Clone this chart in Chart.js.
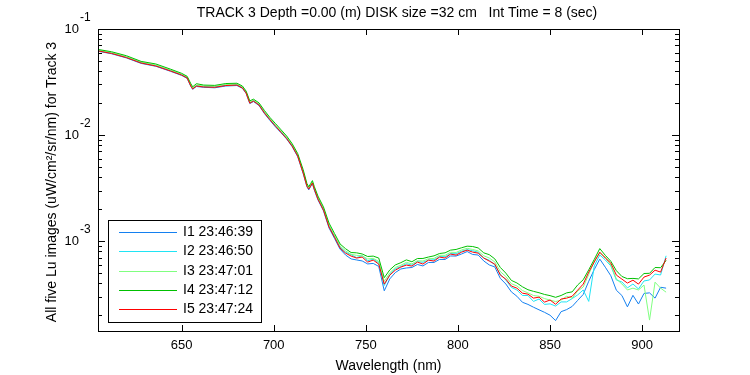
<!DOCTYPE html>
<html>
<head>
<meta charset="utf-8">
<script src="https://cdn.jsdelivr.net/npm/chart.js@4.4.1/dist/chart.umd.min.js"></script>
<style>
  html, body { margin: 0; padding: 0; background: #fff; }
  canvas { display: block; }
</style>
</head>
<body>
<canvas id="luChart" width="750" height="375"></canvas>
<script>
const chartTitle = "TRACK 3 Depth =0.00 (m) DISK size =32 cm   Int Time = 8 (sec)";
const xTitle = "Wavelength (nm)";
const yTitle = "All five Lu images (uW/cm\u00B2/sr/nm) for Track 3";

const seriesLabels = ["I1 23:46:39", "I2 23:46:50", "I3 23:47:01", "I4 23:47:12", "I5 23:47:24"];
const seriesColors = ["#1480f0", "#20e4f4", "#80ff80", "#00c000", "#ff0000"];

const xTicks = [650, 700, 750, 800, 850, 900];
const yTicks = [1e-1, 1e-2, 1e-3];
const yTickExp = ["-1", "-2", "-3"];

const wavelengths = [
  605, 612, 620, 628, 636, 644, 650, 653, 655, 656,
  658, 662, 668, 674, 680, 683, 685, 686, 687, 689,
  692, 695, 698, 701, 704, 707, 710, 713, 716, 718,
  719, 720, 721, 722, 724, 727, 730, 733, 736,
  739, 742, 745, 748, 751, 754, 757, 760, 763, 766,
  769, 772, 775, 778, 781, 784, 787, 790, 793, 796,
  799, 802, 805, 808, 811, 814, 817, 820, 823, 826,
  829, 832, 835, 838, 841, 844, 847, 850, 853, 856,
  859, 862, 865, 868, 871, 874, 877, 880, 883, 886,
  889, 892, 895, 898, 901, 904, 907, 910, 913
];

const lu1 = [
  6.16e-2, 5.84e-2, 5.34e-2, 4.74e-2, 4.45e-2, 3.99e-2, 3.65e-2, 3.42e-2, 2.87e-2, 2.70e-2,
  2.87e-2, 2.82e-2, 2.79e-2, 2.90e-2, 2.93e-2, 2.76e-2, 2.47e-2, 2.21e-2, 1.98e-2, 2.07e-2,
  1.90e-2, 1.59e-2, 1.37e-2, 1.19e-2, 1.05e-2, 9.18e-3, 7.78e-3, 6.26e-3, 4.32e-3, 3.26e-3,
  3.04e-3, 3.26e-3, 3.49e-3, 3.04e-3, 2.45e-3, 1.93e-3, 1.33e-3, 1.06e-3, 8.40e-4,
  7.39e-4, 6.79e-4, 6.64e-4, 6.50e-4, 6.09e-4, 6.16e-4, 5.77e-4, 3.40e-4, 4.40e-4, 5.05e-4,
  5.46e-4, 5.58e-4, 5.64e-4, 6.02e-4, 5.83e-4, 6.29e-4, 6.29e-4, 6.72e-4, 6.71e-4, 7.24e-4,
  7.23e-4, 7.56e-4, 7.97e-4, 7.48e-4, 7.39e-4, 6.50e-4, 5.96e-4, 5.71e-4, 4.45e-4, 3.94e-4,
  3.32e-4, 3.02e-4, 2.65e-4, 2.53e-4, 2.38e-4, 2.25e-4, 2.13e-4, 2.00e-4, 1.78e-4, 2.16e-4,
  2.26e-4, 2.42e-4, 2.76e-4, 3.14e-4, 4.18e-4, 5.39e-4, 6.77e-4, 5.67e-4, 4.71e-4, 3.44e-4,
  3.07e-4, 2.40e-4, 3.08e-4, 2.55e-4, 3.21e-4, 3.25e-4, 2.90e-4, 3.67e-4, 3.60e-4
];

const lu2 = [
  6.26e-2, 5.93e-2, 5.43e-2, 4.83e-2, 4.52e-2, 4.06e-2, 3.72e-2, 3.48e-2, 2.93e-2, 2.75e-2,
  2.93e-2, 2.87e-2, 2.85e-2, 2.96e-2, 2.99e-2, 2.81e-2, 2.52e-2, 2.25e-2, 2.02e-2, 2.11e-2,
  1.94e-2, 1.63e-2, 1.40e-2, 1.22e-2, 1.07e-2, 9.40e-3, 7.98e-3, 6.42e-3, 4.45e-3, 3.34e-3,
  3.13e-3, 3.34e-3, 3.57e-3, 3.13e-3, 2.52e-3, 1.99e-3, 1.39e-3, 1.11e-3, 8.80e-4,
  7.85e-4, 7.44e-4, 6.99e-4, 7.28e-4, 6.53e-4, 6.75e-4, 6.25e-4, 3.81e-4, 4.83e-4, 5.48e-4,
  5.75e-4, 6.12e-4, 5.93e-4, 6.40e-4, 6.31e-4, 6.62e-4, 6.67e-4, 7.14e-4, 7.13e-4, 7.62e-4,
  7.60e-4, 8.03e-4, 8.30e-4, 8.11e-4, 7.85e-4, 6.92e-4, 6.61e-4, 5.95e-4, 4.88e-4, 4.29e-4,
  3.66e-4, 3.46e-4, 3.07e-4, 3.07e-4, 2.70e-4, 2.84e-4, 2.53e-4, 2.56e-4, 2.44e-4, 2.67e-4,
  2.67e-4, 2.87e-4, 3.11e-4, 3.46e-4, 2.70e-4, 5.83e-4, 7.40e-4, 6.64e-4, 5.83e-4, 4.30e-4,
  4.12e-4, 3.62e-4, 3.94e-4, 3.54e-4, 4.21e-4, 4.30e-4, 4.89e-4, 4.79e-4, 7.27e-4
];

const lu3 = [
  6.30e-2, 5.98e-2, 5.48e-2, 4.87e-2, 4.57e-2, 4.10e-2, 3.75e-2, 3.52e-2, 2.96e-2, 2.78e-2,
  2.96e-2, 2.90e-2, 2.88e-2, 2.99e-2, 3.02e-2, 2.84e-2, 2.54e-2, 2.28e-2, 2.04e-2, 2.13e-2,
  1.96e-2, 1.65e-2, 1.42e-2, 1.24e-2, 1.09e-2, 9.52e-3, 8.08e-3, 6.52e-3, 4.52e-3, 3.39e-3,
  3.17e-3, 3.39e-3, 3.62e-3, 3.18e-3, 2.57e-3, 2.03e-3, 1.42e-3, 1.13e-3, 9.00e-4,
  8.09e-4, 7.51e-4, 7.34e-4, 7.28e-4, 6.78e-4, 6.88e-4, 6.43e-4, 4.17e-4, 5.02e-4, 5.64e-4,
  5.92e-4, 6.30e-4, 6.10e-4, 6.53e-4, 6.49e-4, 6.82e-4, 6.87e-4, 7.35e-4, 7.34e-4, 7.84e-4,
  7.82e-4, 8.26e-4, 8.55e-4, 8.34e-4, 8.09e-4, 7.27e-4, 6.93e-4, 6.37e-4, 5.16e-4, 4.64e-4,
  3.96e-4, 3.78e-4, 3.42e-4, 3.25e-4, 3.07e-4, 3.02e-4, 2.87e-4, 2.78e-4, 2.69e-4, 2.78e-4,
  3.02e-4, 2.90e-4, 3.38e-4, 3.69e-4, 4.85e-4, 6.47e-4, 7.71e-4, 7.06e-4, 5.95e-4, 4.40e-4,
  3.94e-4, 3.46e-4, 3.60e-4, 3.46e-4, 3.85e-4, 1.80e-4, 4.10e-4, 3.60e-4, 3.30e-4
];

const lu4 = [
  6.40e-2, 6.10e-2, 5.60e-2, 4.95e-2, 4.68e-2, 4.18e-2, 3.82e-2, 3.58e-2, 3.05e-2, 2.85e-2,
  3.05e-2, 2.96e-2, 2.94e-2, 3.06e-2, 3.08e-2, 2.90e-2, 2.60e-2, 2.34e-2, 2.10e-2, 2.18e-2,
  2.01e-2, 1.70e-2, 1.46e-2, 1.28e-2, 1.12e-2, 9.80e-3, 8.30e-3, 6.70e-3, 4.70e-3, 3.50e-3,
  3.25e-3, 3.48e-3, 3.72e-3, 3.28e-3, 2.66e-3, 2.10e-3, 1.48e-3, 1.18e-3, 9.40e-4,
  8.47e-4, 7.80e-4, 7.75e-4, 7.56e-4, 7.16e-4, 7.22e-4, 6.92e-4, 4.52e-4, 5.35e-4, 5.96e-4,
  6.26e-4, 6.65e-4, 6.39e-4, 6.85e-4, 6.86e-4, 7.08e-4, 7.26e-4, 7.64e-4, 7.75e-4, 8.22e-4,
  8.34e-4, 8.66e-4, 8.96e-4, 8.89e-4, 8.62e-4, 7.75e-4, 7.45e-4, 6.80e-4, 5.64e-4, 4.99e-4,
  4.26e-4, 4.03e-4, 3.71e-4, 3.48e-4, 3.36e-4, 3.26e-4, 3.14e-4, 3.06e-4, 2.95e-4, 3.07e-4,
  3.25e-4, 3.32e-4, 3.86e-4, 4.32e-4, 5.36e-4, 6.72e-4, 8.50e-4, 7.34e-4, 6.45e-4, 5.26e-4,
  4.64e-4, 4.42e-4, 4.45e-4, 4.40e-4, 4.95e-4, 4.97e-4, 5.64e-4, 5.61e-4, 6.57e-4
];

const lu5 = [
  6.20e-2, 5.88e-2, 5.38e-2, 4.78e-2, 4.48e-2, 4.02e-2, 3.68e-2, 3.45e-2, 2.90e-2, 2.72e-2,
  2.90e-2, 2.84e-2, 2.82e-2, 2.93e-2, 2.96e-2, 2.78e-2, 2.49e-2, 2.23e-2, 2.00e-2, 2.09e-2,
  1.92e-2, 1.61e-2, 1.39e-2, 1.21e-2, 1.06e-2, 9.27e-3, 7.87e-3, 6.34e-3, 4.38e-3, 3.30e-3,
  3.09e-3, 3.30e-3, 3.53e-3, 3.09e-3, 2.49e-3, 1.96e-3, 1.36e-3, 1.09e-3, 8.59e-4,
  7.70e-4, 7.22e-4, 6.92e-4, 7.07e-4, 6.34e-4, 6.62e-4, 6.07e-4, 3.93e-4, 4.78e-4, 5.32e-4,
  5.69e-4, 5.94e-4, 5.81e-4, 6.34e-4, 6.07e-4, 6.62e-4, 6.48e-4, 7.07e-4, 6.92e-4, 7.54e-4,
  7.38e-4, 7.87e-4, 8.22e-4, 7.87e-4, 7.70e-4, 6.92e-4, 6.48e-4, 6.07e-4, 4.78e-4, 4.38e-4,
  3.77e-4, 3.60e-4, 3.23e-4, 3.16e-4, 2.90e-4, 2.96e-4, 2.66e-4, 2.78e-4, 2.54e-4, 2.84e-4,
  2.90e-4, 3.02e-4, 3.45e-4, 3.93e-4, 5.10e-4, 6.34e-4, 7.87e-4, 6.92e-4, 6.20e-4, 4.78e-4,
  4.38e-4, 4.02e-4, 4.28e-4, 3.93e-4, 4.58e-4, 4.78e-4, 5.32e-4, 5.10e-4, 6.92e-4
];

const allSeries = [lu1, lu2, lu3, lu4, lu5];
const FONT = "'Liberation Sans', Arial, sans-serif";

const datasets = allSeries.map((vals, i) => ({
  label: seriesLabels[i],
  data: wavelengths.map((w, j) => ({ x: w, y: vals[j] })),
  borderColor: seriesColors[i],
  borderWidth: 1,
  pointRadius: 0,
  tension: 0,
  fill: false,
  order: allSeries.length - i   // I5 drawn last, on top
}));

// axes box, inward ticks, labels and legend, matlab style
const matlabFrame = {
  id: 'matlabFrame',
  afterDraw(chart) {
    const ctx = chart.ctx;
    const a = chart.chartArea;
    const xs = chart.scales.x;
    const ys = chart.scales.y;
    ctx.save();
    ctx.strokeStyle = '#000';
    ctx.fillStyle = '#000';
    ctx.lineWidth = 1;

    ctx.strokeRect(Math.round(a.left) + 0.5, Math.round(a.top) + 0.5,
      Math.round(a.right - a.left), Math.round(a.bottom - a.top));

    ctx.beginPath();
    xTicks.forEach(v => {
      const px = Math.round(xs.getPixelForValue(v)) + 0.5;
      ctx.moveTo(px, a.bottom); ctx.lineTo(px, a.bottom - 6);
      ctx.moveTo(px, a.top); ctx.lineTo(px, a.top + 6);
    });
    for (let e = -4; e <= -2; e++) {
      for (let m = 2; m <= 9; m++) {
        const v = m * Math.pow(10, e);
        if (v < ys.min || v > ys.max) continue;
        const py = Math.round(ys.getPixelForValue(v)) + 0.5;
        ctx.moveTo(a.left, py); ctx.lineTo(a.left + 4, py);
        ctx.moveTo(a.right, py); ctx.lineTo(a.right - 4, py);
      }
    }
    yTicks.forEach(v => {
      const py = Math.round(ys.getPixelForValue(v)) + 0.5;
      ctx.moveTo(a.left, py); ctx.lineTo(a.left + 7, py);
      ctx.moveTo(a.right, py); ctx.lineTo(a.right - 7, py);
    });
    ctx.stroke();

    ctx.font = '13px ' + FONT;
    ctx.textAlign = 'center';
    ctx.textBaseline = 'middle';
    xTicks.forEach(v => {
      ctx.fillText(String(v), xs.getPixelForValue(v), a.bottom + 14);
    });

    yTicks.forEach((v, i) => {
      const py = ys.getPixelForValue(v);
      ctx.font = '13px ' + FONT;
      ctx.textAlign = 'right';
      ctx.fillText('10', a.left - 19, py);
      ctx.font = '12px ' + FONT;
      ctx.textAlign = 'left';
      ctx.fillText(yTickExp[i], a.left - 18, py - 11);
    });

    ctx.font = '14px ' + FONT;
    ctx.textAlign = 'center';
    ctx.fillText(chartTitle, 397, 13);
    ctx.fillText(xTitle, (a.left + a.right) / 2, 366);
    ctx.save();
    ctx.translate(52, 182);
    ctx.rotate(-Math.PI / 2);
    ctx.fillText(yTitle, 0, 0);
    ctx.restore();

    // legend box
    const lx = 108.5, ly = 220.5, lw = 153, lh = 102;
    ctx.fillStyle = '#fff';
    ctx.fillRect(lx, ly, lw, lh);
    ctx.strokeStyle = '#000';
    ctx.strokeRect(lx, ly, lw, lh);
    ctx.font = '14px ' + FONT;
    ctx.textAlign = 'left';
    seriesLabels.forEach((lab, i) => {
      const ry = Math.round(232 + i * 19.25) + 0.5;
      ctx.strokeStyle = seriesColors[i];
      ctx.beginPath();
      ctx.moveTo(119, ry); ctx.lineTo(177, ry);
      ctx.stroke();
      ctx.fillStyle = '#000';
      ctx.fillText(lab, 183, ry);
    });
    ctx.restore();
  }
};

const config = {
  type: 'line',
  data: { datasets: datasets },
  options: {
    responsive: false,
    animation: false,
    events: [],
    layout: { padding: { left: 98, top: 29, right: 71, bottom: 44 } },
    scales: {
      x: { type: 'linear', min: 604.6, max: 920, display: false },
      y: { type: 'logarithmic', min: 1.42e-4, max: 0.1, display: false }
    },
    plugins: {
      legend: { display: false },
      title: { display: false },
      tooltip: { enabled: false }
    }
  },
  plugins: [matlabFrame]
};

const myChart = new Chart(document.getElementById('luChart'), config);
</script>
</body>
</html>
